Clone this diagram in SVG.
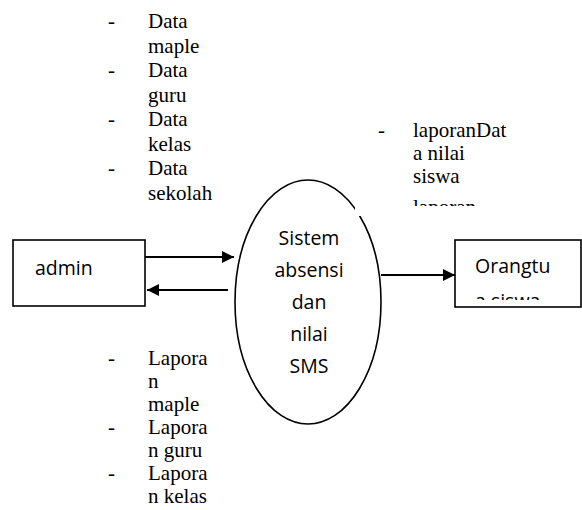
<svg xmlns="http://www.w3.org/2000/svg" width="582" height="510" viewBox="0 0 582 510">
<style>
.box{fill:#fff;stroke:#000;stroke-width:1.6}
.ser{font-family:"Liberation Serif","Times New Roman",serif;font-size:21px;fill:#000}
.sans{font-family:"Open Sans","Noto Sans",sans-serif;font-size:19.5px;fill:#000}
.ln{stroke:#000;stroke-width:2.2;fill:none}
</style>
<defs>
<marker id="ah" viewBox="0 0 12 12" refX="12" refY="6" markerWidth="12" markerHeight="12" markerUnits="userSpaceOnUse" orient="auto">
<path d="M0,0 L12,6 L0,12 z" fill="#000"/>
</marker>
<clipPath id="c1"><rect x="355" y="115" width="200" height="91"/></clipPath>
<clipPath id="c2"><rect x="456" y="241" width="125" height="59"/></clipPath>
</defs>
<g id="process">
<ellipse cx="308" cy="302" rx="73" ry="122" fill="#fff" stroke="#000" stroke-width="1.6"/>
<text class="sans" text-anchor="middle" x="309" y="245">Sistem</text>
<text class="sans" text-anchor="middle" x="309" y="277">absensi</text>
<text class="sans" text-anchor="middle" x="309" y="309">dan</text>
<text class="sans" text-anchor="middle" x="309" y="341">nilai</text>
<text class="sans" text-anchor="middle" x="309" y="373">SMS</text>
</g>
<g id="label-out-right">
<rect x="355" y="118" width="195" height="98" fill="#fff"/>
<g clip-path="url(#c1)">
<text class="ser" x="378" y="137">-</text>
<text class="ser" x="413" y="137">laporanDat</text>
<text class="ser" x="413" y="160">a nilai</text>
<text class="ser" x="413" y="183">siswa</text>
<text class="ser" x="413" y="214">laporan</text>
</g>
</g>
<g id="admin">
<rect class="box" x="13" y="240" width="132" height="66"/>
<text class="sans" x="35" y="275">admin</text>
</g>
<g id="orangtua">
<rect class="box" x="455" y="240" width="126" height="67"/>
<g clip-path="url(#c2)">
<text class="sans" x="475" y="273">Orangtu</text>
<text class="sans" x="475" y="308">a siswa</text>
</g>
</g>
<g id="label-in">
<text class="ser" x="108" y="28">-</text>
<text class="ser" x="148" y="28">Data</text>
<text class="ser" x="148" y="52.5">maple</text>
<text class="ser" x="108" y="77">-</text>
<text class="ser" x="148" y="77">Data</text>
<text class="ser" x="148" y="101.5">guru</text>
<text class="ser" x="108" y="126">-</text>
<text class="ser" x="148" y="126">Data</text>
<text class="ser" x="148" y="150.5">kelas</text>
<text class="ser" x="108" y="175">-</text>
<text class="ser" x="148" y="175">Data</text>
<text class="ser" x="148" y="199.5">sekolah</text>
</g>
<g id="label-out-left">
<text class="ser" x="108" y="365">-</text>
<text class="ser" x="148" y="365">Lapora</text>
<text class="ser" x="148" y="388">n</text>
<text class="ser" x="148" y="411">maple</text>
<text class="ser" x="108" y="434">-</text>
<text class="ser" x="148" y="434">Lapora</text>
<text class="ser" x="148" y="457">n guru</text>
<text class="ser" x="108" y="480">-</text>
<text class="ser" x="148" y="480">Lapora</text>
<text class="ser" x="148" y="503">n kelas</text>
</g>
<g id="connectors">
<line class="ln" x1="145" y1="257" x2="234" y2="257" marker-end="url(#ah)"/>
<line class="ln" x1="228" y1="290" x2="147" y2="290" marker-end="url(#ah)"/>
<line class="ln" x1="381" y1="275" x2="455" y2="275" marker-end="url(#ah)"/>
</g>
</svg>
